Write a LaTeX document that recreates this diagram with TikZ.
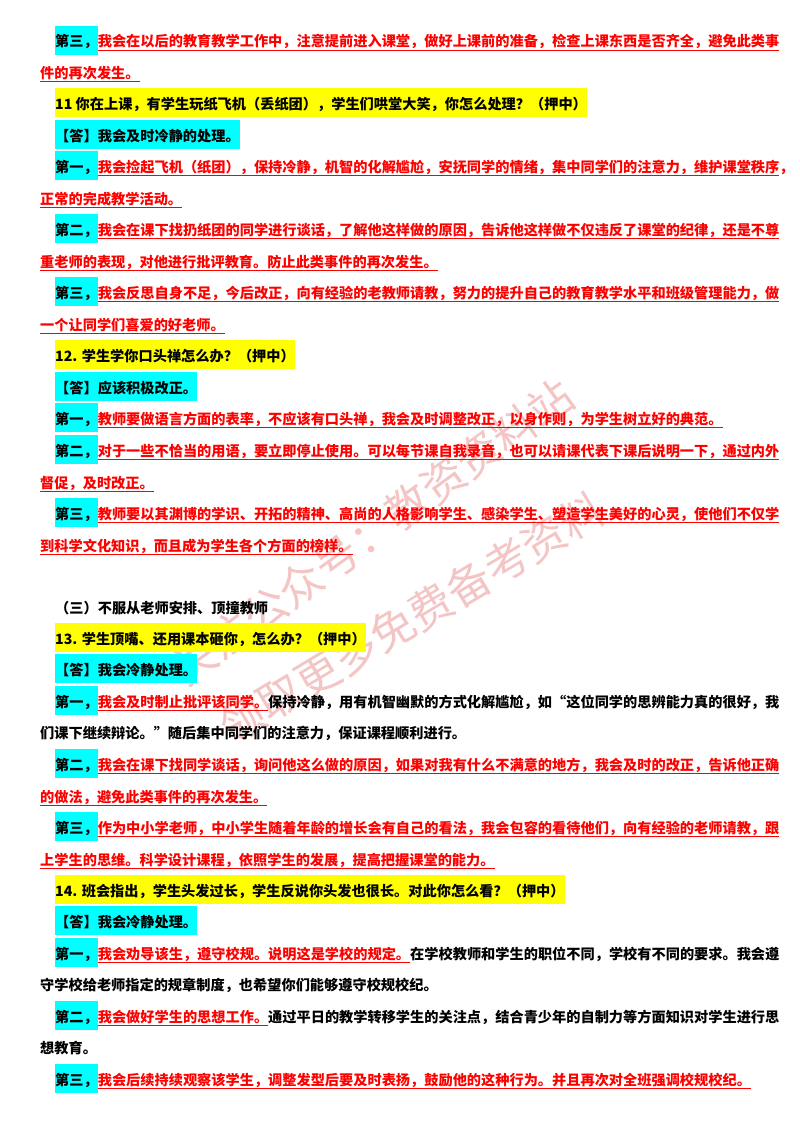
\documentclass[tikz,border=0pt]{standalone}
\usepackage{fontspec}
\setmainfont{Noto Sans CJK SC}
\XeTeXlinebreaklocale "zh"
\XeTeXlinebreakskip=0pt plus 2pt
\definecolor{hy}{RGB}{255,255,0}
\definecolor{hc}{RGB}{0,255,255}
\definecolor{rd}{RGB}{255,0,0}
\definecolor{wmk}{RGB}{235,150,150}
\setlength\fboxsep{0pt}
\newcommand\mystr{\rule[-8pt]{0pt}{29pt}}
\newcommand\lab[1]{\colorbox{hc}{\mystr #1}}
\newcommand\ylab[1]{\colorbox{hy}{\mystr #1}}
\newcommand\ru[1]{\textcolor{rd}{\underline{#1}}}
\newcommand\ruj[1]{\textcolor{rd}{\underline{\hbox to \dimexpr724pt-3em\relax{#1}}}}
\newcommand\fl[2]{\hbox to 724pt{\lab{#1}\ruj{#2}}}
\newcommand\cl[1]{\hbox to 739pt{#1}}
\begin{document}
\begin{tikzpicture}[x=1pt,y=-1pt,
  every node/.style={inner sep=0pt,anchor=base west,font=\fontsize{14.2pt}{17pt}\selectfont\bfseries},
  wm/.style={inner sep=0pt,anchor=center,text=wmk,opacity=0.55,font=\fontsize{44pt}{50pt}\selectfont}]
\useasboundingbox[fill=white] (0,0) rectangle (800,1132);
\node[wm,rotate=36] (w1) at (372,532) {关注公众号：教资资料站};
\node[wm,rotate=31] (w2) at (412,618) {领取更多免费备考资料};
\node (l1) at (55,47) {\fl{第三，}{我会在以后的教育教学工作中，注意提前进入课堂，做好上课前的准备，检查上课东西是否齐全，避免此类事}};
\node (l2) at (40,78) {\ru{件的再次发生。}};
\node (l3) at (55,109) {\ylab{11 你在上课，有学生玩纸飞机（丢纸团），学生们哄堂大笑，你怎么处理？（押中）}};
\node (l4) at (55,141) {\lab{【答】我会及时冷静的处理。}};
\node (l5) at (55,172) {\fl{第一，}{我会捡起飞机（纸团），保持冷静，机智的化解尴尬，安抚同学的情绪，集中同学们的注意力，维护课堂秩序，}};
\node (l6) at (40,204) {\ru{正常的完成教学活动。}};
\node (l7) at (55,235) {\fl{第二，}{我会在课下找扔纸团的同学进行谈话，了解他这样做的原因，告诉他这样做不仅违反了课堂的纪律，还是不尊}};
\node (l8) at (40,267) {\ru{重老师的表现，对他进行批评教育。防止此类事件的再次发生。}};
\node (l9) at (55,298) {\fl{第三，}{我会反思自身不足，今后改正，向有经验的老教师请教，努力的提升自己的教育教学水平和班级管理能力，做}};
\node (l10) at (40,330) {\ru{一个让同学们喜爱的好老师。}};
\node (l11) at (55,361) {\ylab{12. 学生学你口头禅怎么办？（押中）}};
\node (l12) at (55,393) {\lab{【答】应该积极改正。}};
\node (l13) at (55,424) {\lab{第一，}\ru{教师要做语言方面的表率，不应该有口头禅，我会及时调整改正，以身作则，为学生树立好的典范。}};
\node (l14) at (55,456) {\fl{第二，}{对于一些不恰当的用语，要立即停止使用。可以每节课自我录音，也可以请课代表下课后说明一下，通过内外}};
\node (l15) at (40,488) {\ru{督促，及时改正。}};
\node (l16) at (55,519) {\fl{第三，}{教师要以其渊博的学识、开拓的精神、高尚的人格影响学生、感染学生、塑造学生美好的心灵，使他们不仅学}};
\node (l17) at (40,551) {\ru{到科学文化知识，而且成为学生各个方面的榜样。}};
\node (l18) at (55,613) {（三）不服从老师安排、顶撞教师};
\node (l19) at (55,644) {\ylab{13. 学生顶嘴、还用课本砸你，怎么办？（押中）}};
\node (l20) at (55,675) {\lab{【答】我会冷静处理。}};
\node (l21) at (55,707) {\hbox to 724pt{\lab{第一，}\ru{我会及时制止批评该同学。}保持冷静，用有机智幽默的方式化解尴尬，如“这位同学的思辨能力真的很好，我}};
\node (l22) at (40,738) {们课下继续辩论。”随后集中同学们的注意力，保证课程顺利进行。};
\node (l23) at (55,770) {\fl{第二，}{我会在课下找同学谈话，询问他这么做的原因，如果对我有什么不满意的地方，我会及时的改正，告诉他正确}};
\node (l24) at (40,802) {\ru{的做法，避免此类事件的再次发生。}};
\node (l25) at (55,833) {\fl{第三，}{作为中小学老师，中小学生随着年龄的增长会有自己的看法，我会包容的看待他们，向有经验的老师请教，跟}};
\node (l26) at (40,865) {\ru{上学生的思维。科学设计课程，依照学生的发展，提高把握课堂的能力。}};
\node (l27) at (55,896) {\ylab{14. 班会指出，学生头发过长，学生反说你头发也很长。对此你怎么看？（押中）}};
\node (l28) at (55,927) {\lab{【答】我会冷静处理。}};
\node (l29) at (55,959) {\hbox to 724pt{\lab{第一，}\ru{我会劝导该生，遵守校规。说明这是学校的规定。}在学校教师和学生的职位不同，学校有不同的要求。我会遵}};
\node (l30) at (40,990) {守学校给老师指定的规章制度，也希望你们能够遵守校规校纪。};
\node (l31) at (55,1022) {\hbox to 724pt{\lab{第二，}\ru{我会做好学生的思想工作。}通过平日的教学转移学生的关注点，结合青少年的自制力等方面知识对学生进行思}};
\node (l32) at (40,1053) {想教育。};
\node (l33) at (55,1085) {\lab{第三，}\ru{我会后续持续观察该学生，调整发型后要及时表扬，鼓励他的这种行为。并且再次对全班强调校规校纪。}};
\end{tikzpicture}
\end{document}
